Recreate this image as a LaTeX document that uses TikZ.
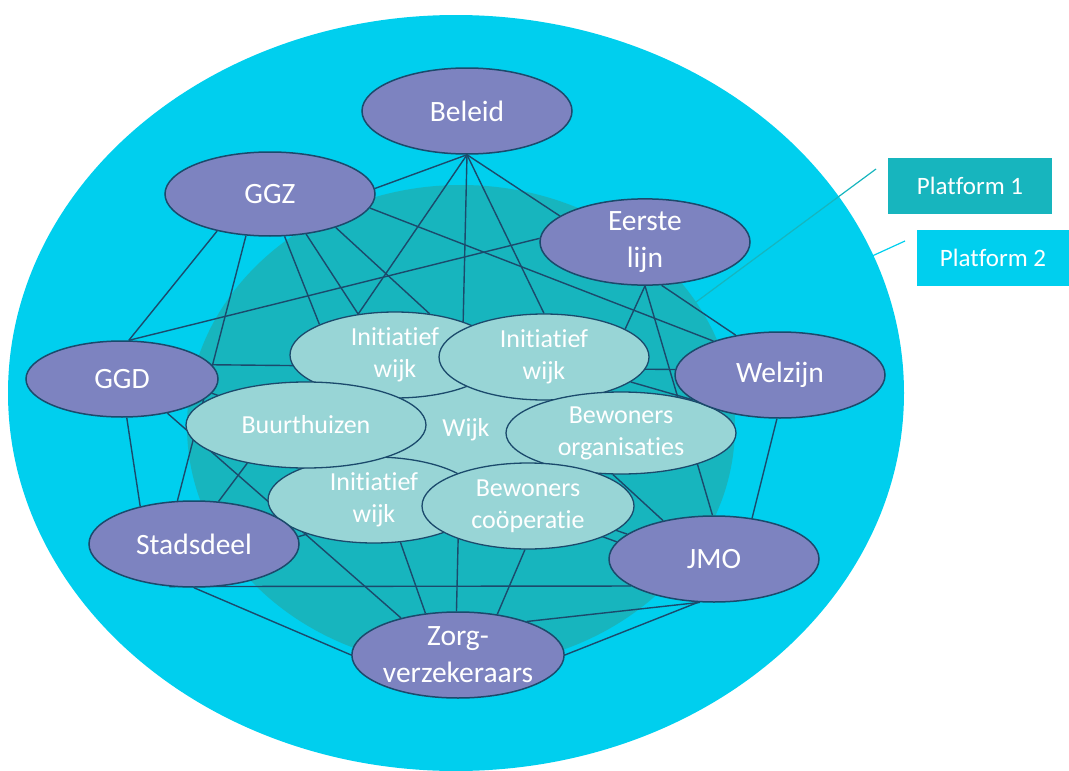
\documentclass[tikz,border=0pt]{standalone}
\usepackage{fontspec}
\setmainfont{Carlito}[Ligatures=NoCommon]
\usetikzlibrary{shapes.geometric,backgrounds}
\definecolor{platTwo}{RGB}{0,207,238}
\definecolor{platOne}{RGB}{23,181,190}
\definecolor{purp}{RGB}{125,131,192}
\definecolor{lightn}{RGB}{152,213,214}
\definecolor{navy}{RGB}{27,74,108}

\begin{document}
\begin{tikzpicture}[x=1pt, y=-1pt]
  \tikzstyle{every edge}=[draw=navy, line width=1.4pt]
  \tikzstyle{actor}=[ellipse, draw=navy, line width=1.5pt, fill=purp, text=white,
    minimum width=210pt, minimum height=86pt, inner sep=0pt, align=center,
    font=\fontsize{29.5}{37}\selectfont]
  \tikzstyle{local}=[ellipse, draw=navy, line width=1.3pt, fill=lightn, text=white,
    minimum width=210pt, minimum height=86pt, inner sep=0pt, align=center,
    font=\fontsize{26}{32}\selectfont]
  \tikzstyle{platbox}=[rectangle, minimum height=56pt, inner sep=0pt, text=white,
    font=\fontsize{25}{30}\selectfont]

  \useasboundingbox (0,0) rectangle (1069,771);

  % wijk in the middle
  \node[local, minimum width=230pt, minimum height=150pt] (wijk) at (466,430) {Wijk};
  \node[local] (ini1) at (395,355) {Initiatief\\wijk};
  \node[local] (ini2) at (544,357) {Initiatief\\wijk};
  \node[local, minimum width=212pt] (ini3) at (374,500) {Initiatief\\wijk};
  \node[local, minimum width=240pt] (buurt) at (306,425) {Buurthuizen};
  \node[local, minimum width=230pt, minimum height=82pt] (borg) at (621,433) {Bewoners\\organisaties};
  \node[local, minimum width=212pt] (bcoop) at (528,506) {Bewoners\\coöperatie};

  % partners round it
  \node[actor] (beleid) at (467,111) {Beleid};
  \node[actor, minimum height=84pt] (ggz) at (270,194) {GGZ};
  \node[actor] (eerste) at (645,242) {Eerste\\lijn};
  \node[actor, minimum width=192pt, minimum height=76pt] (ggd) at (122,379) {GGD};
  \node[actor] (welzijn) at (780,375) {Welzijn};
  \node[actor] (stad) at (194,544) {Stadsdeel};
  \node[actor] (jmo) at (714,559) {JMO};
  \node[actor, minimum width=212pt] (zorg) at (458,655) {Zorg-\\verzekeraars};

  % legend
  \node[platbox, fill=platOne, minimum width=164pt] (p1) at (970,186) {Platform 1};
  \node[platbox, fill=platTwo, minimum width=152pt] (p2) at (993,258) {Platform 2};
  \coordinate (p1a) at (876,169);
  \coordinate (p1b) at (692,305);
  \coordinate (p2a) at (905,241);
  \coordinate (p2b) at (870,257);

  \begin{pgfonlayer}{background}
    \fill[platTwo] (456,393) ellipse [x radius=448pt, y radius=378pt];
    \fill[platOne] (461,426) ellipse [x radius=274pt, y radius=241pt];
    \draw[platOne, line width=1.2pt] (p1a) -- (p1b);
    \draw[platTwo, line width=1.2pt] (p2a) -- (p2b);

    \foreach \source/\dest in {beleid.south/ggz.3, beleid.south/ini1.132,
        beleid.south/zorg.92, beleid.south/ini2.north, beleid.south/eerste.163,
        ggz.215/ggd.80, ggz.240/stad.111, ggz.289/ini1.158, ggz.312/ini1.132,
        ggz.333/ini1.50, ggz.352/welzijn.153,
        ggd.80/eerste.178, ggd.9/welzijn.177, ggd.277/stad.145,
        ggd.323/zorg.147, ggd.351/jmo.170,
        eerste.south/ini2.19, eerste.south/jmo.92, eerste.291/welzijn.138,
        welzijn.266/jmo.47, ini2/welzijn.196,
        stad.60/buurt.213, stad.240/jmo.198, stad.270/zorg.180, stad.4/ini3.207,
        ini3.302/zorg.128, bcoop.266/zorg.46, zorg.26/jmo.252, zorg.east/jmo.250,
        borg.259/jmo.143, buurt/jmo.164}
      \path (\source) edge (\dest);
  \end{pgfonlayer}
\end{tikzpicture}
\end{document}
